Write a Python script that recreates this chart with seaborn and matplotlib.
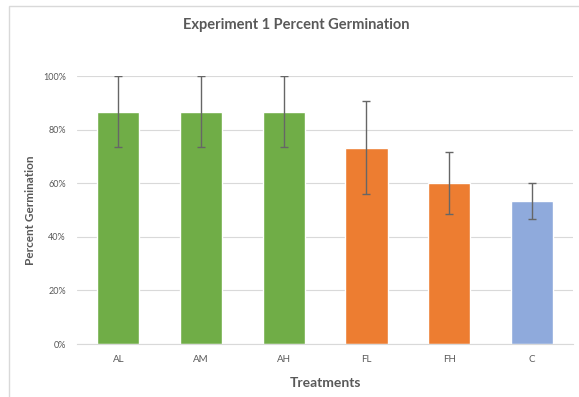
import matplotlib
matplotlib.use("Agg")
import matplotlib.pyplot as plt
import matplotlib.patches as mpatches
import seaborn as sns
import pandas as pd

treatments = ["AL", "AM", "AH", "FL", "FH", "C"]
germination = [0.867, 0.867, 0.867, 0.733, 0.600, 0.533]
error = [0.133, 0.133, 0.133, 0.175, 0.115, 0.067]
bar_colors = ["#70AD47", "#70AD47", "#70AD47", "#ED7D31", "#ED7D31", "#8FAADC"]
y_ticks = [0, 0.2, 0.4, 0.6, 0.8, 1.0]
y_tick_labels = ["0%", "20%", "40%", "60%", "80%", "100%"]

df = pd.DataFrame({"treatment": treatments, "germination": germination, "error": error})

sns.set_style("white")
plt.rcParams["font.family"] = ["Lato", "DejaVu Sans"]

fig = plt.figure(figsize=(5.79, 3.97), dpi=100)
ax = fig.add_axes([0.133, 0.1335, 0.857, 0.675])

sns.barplot(data=df, x="treatment", y="germination", hue="treatment",
            palette=bar_colors, saturation=1, width=0.51, legend=False, ax=ax)
ax.errorbar(range(len(treatments)), df["germination"], yerr=df["error"],
            fmt="none", ecolor="#666666", elinewidth=1, capsize=3, capthick=1)

ax.set_ylim(0, 1.0)
ax.set_xlim(-0.5, len(treatments) - 0.5)
ax.set_yticks(y_ticks)
ax.set_yticklabels(y_tick_labels)
ax.yaxis.grid(True, color="#D9D9D9", linewidth=0.8)
ax.set_axisbelow(True)
for side in ["top", "right", "left"]:
    ax.spines[side].set_visible(False)
ax.spines["bottom"].set_color("#D9D9D9")
ax.tick_params(axis="y", length=0, labelsize=6.5, labelcolor="#595959", pad=8)
ax.tick_params(axis="x", length=0, labelsize=7, labelcolor="#595959", pad=8)

ax.set_xlabel("Treatments", fontsize=10, fontweight="bold", color="#595959", labelpad=9)
ax.set_ylabel("Percent Germination", fontsize=8.5, fontweight="bold", color="#595959", labelpad=5)
fig.text(0.511, 0.937, "Experiment 1 Percent Germination", ha="center", va="center",
         fontsize=10.5, fontweight="bold", color="#595959")

# light chart frame (left and top edges visible)
fig.patches.append(mpatches.Rectangle((9 / 579, -0.05), 1.2, 1 - 6 / 397 + 0.05,
                                      transform=fig.transFigure, fill=False,
                                      edgecolor="#D9D9D9", linewidth=1))

fig.savefig("out.png", dpi=100)
